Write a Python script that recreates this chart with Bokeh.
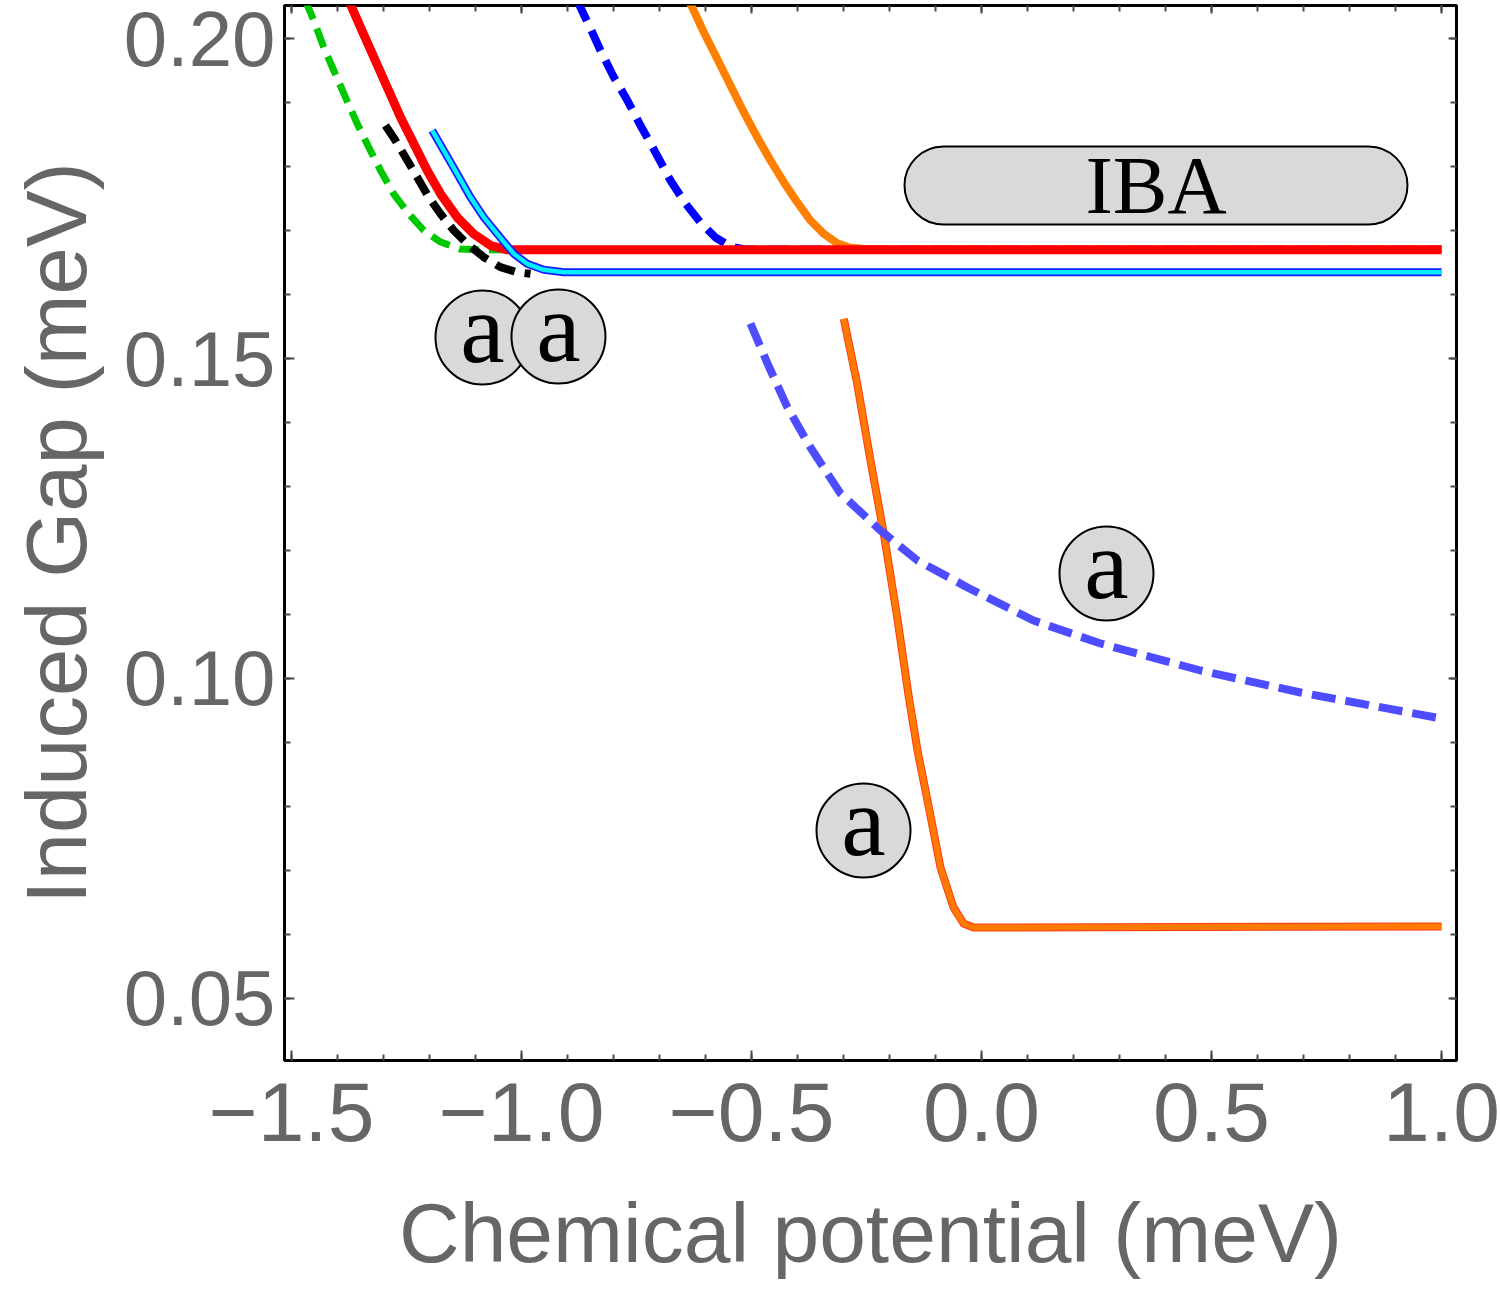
import math

from bokeh.plotting import figure
from bokeh.models import FixedTicker, BoxAnnotation, Label
from bokeh.core.properties import value
from bokeh.embed import file_html
from bokeh.resources import INLINE

# ---- curves: chemical potential (meV) vs induced gap (meV) ----
green_mu = [-1.4696, -1.4515, -1.4298, -1.408, -1.3826, -1.3572, -1.332, -1.3065,
            -1.2776, -1.245, -1.2124, -1.176, -1.1326, -1.089, 1.0]
green_gap = [0.2059, 0.2028, 0.1986, 0.1950, 0.1908, 0.1867, 0.1830, 0.1794,
             0.1757, 0.1726, 0.1700, 0.1682, 0.1671, 0.1670, 0.1670]

black_mu = [-1.2957, -1.2739, -1.2522, -1.2267, -1.2015, -1.1761, -1.1472, -1.118,
            -1.082, -1.0457, -1.0093, -0.9804]
black_gap = [0.18641, 0.18406, 0.18145, 0.17833, 0.17520, 0.17261, 0.17000, 0.16792,
             0.16583, 0.16427, 0.16348, 0.16323]

red_mu = [-1.3754, -1.350, -1.321, -1.292, -1.263, -1.234, -1.205, -1.176,
          -1.140, -1.104, -1.067, -1.031, 1.0]
red_gap = [0.20594, 0.20177, 0.19708, 0.19239, 0.18770, 0.18355, 0.17938, 0.17573,
           0.17208, 0.16948, 0.16766, 0.16698, 0.16698]

cyan_mu = [-1.1941, -1.1689, -1.1398, -1.1109, -1.082, -1.0528, -1.0167, -0.9876,
           -0.9515, -0.908, 1.0]
cyan_gap = [0.18563, 0.18250, 0.17886, 0.17520, 0.17208, 0.16948, 0.16636, 0.16480,
            0.16386, 0.16348, 0.16348]

blue_mu = [-0.878, -0.8717, -0.85, -0.8283, -0.80, -0.7696, -0.7413, -0.7109, -0.6761,
           -0.6435, -0.6109, -0.5783, -0.5457, -0.513, 1.0]
blue_gap = [0.2059, 0.20484, 0.20156, 0.19813, 0.19406, 0.19031, 0.18641, 0.18250, 0.17781,
            0.17422, 0.17125, 0.16891, 0.16750, 0.16703, 0.16703]

orange_mu = [-0.637, -0.6289, -0.6037, -0.5746, -0.5457, -0.5167, -0.4876, -0.4587,
             -0.4298, -0.4007, -0.3717, -0.3428, -0.3137, -0.2848, -0.2413, 1.0]
orange_gap = [0.2059, 0.20489, 0.20098, 0.19683, 0.19266, 0.18848, 0.18458, 0.18094,
              0.17755, 0.17442, 0.17156, 0.16948, 0.16802, 0.16730, 0.16703, 0.16703]

low_blue_mu = [-0.5022, -0.4652, -0.4217, -0.3717, -0.3065, -0.2196, -0.1391, -0.0304,
               0.1130, 0.2587, 0.4761, 0.6935, 1.0]
low_blue_gap = [0.15547, 0.14922, 0.14234, 0.13609, 0.12891, 0.12313, 0.11844, 0.11422,
                0.10906, 0.10547, 0.10125, 0.09781, 0.09375]

low_orange_mu = [-0.2993, -0.2702, -0.2413, -0.2124, -0.1833, -0.1580, -0.1391, -0.1174,
                 -0.0891, -0.0609, -0.0391, -0.0174, 1.0]
low_orange_gap = [0.15620, 0.14605, 0.13406, 0.12261, 0.10958, 0.09708, 0.08875, 0.08094,
                  0.07047, 0.06422, 0.06172, 0.06109, 0.06125]

# ---- badge markers ----
badge_mu = [-1.0848, -0.9196, 0.2717, -0.2565]
badge_gap = [0.15328, 0.15344, 0.11641, 0.07625]
badge_text = ["a", "a", "a", "a"]

# ---- IBA tag ----
iba_left, iba_right = -0.1674, 0.9261
iba_bottom, iba_top = 0.17094, 0.18313
iba_text = "IBA"

# ---- axes ----
x_lo, x_hi = -1.5152, 1.0326
y_lo, y_hi = 0.04031, 0.20516
x_ticks = [-1.5, -1.0, -0.5, 0.0, 0.5, 1.0]
x_tick_labels = ["\u22121.5", "\u22121.0", "\u22120.5", "0.0", "0.5", "1.0"]
y_ticks = [0.05, 0.10, 0.15, 0.20]
y_tick_labels = ["0.05", "0.10", "0.15", "0.20"]
x_minor = [round(-1.5 + 0.1 * i, 2) for i in range(26)]
y_minor = [round(0.04 + 0.01 * i, 3) for i in range(17)]

GRAY = "#666666"
TICK = "#4a4a4a"

p = figure(width=1500, height=1305, x_range=(x_lo, x_hi), y_range=(y_lo, y_hi),
           output_backend="svg", toolbar_location=None,
           min_border_left=284, min_border_right=44, min_border_top=5, min_border_bottom=245)
p.xgrid.visible = False
p.ygrid.visible = False
p.background_fill_color = "white"
p.border_fill_color = "white"
p.outline_line_color = "black"
p.outline_line_width = 3

xa = p.xaxis[0]
xa.ticker = FixedTicker(ticks=x_ticks, minor_ticks=x_minor)
xa.major_label_overrides = dict(zip(x_ticks, x_tick_labels))
xa.axis_label = "Chemical potential (meV)"
ya = p.yaxis[0]
ya.ticker = FixedTicker(ticks=y_ticks, minor_ticks=y_minor)
ya.major_label_overrides = dict(zip(y_ticks, y_tick_labels))
ya.axis_label = "Induced Gap (meV)"

for ax in (xa, ya):
    ax.axis_line_color = "black"
    ax.axis_line_width = 3
    ax.major_tick_in = 10
    ax.major_tick_out = 0
    ax.minor_tick_in = 6
    ax.minor_tick_out = 0
    ax.major_tick_line_color = TICK
    ax.minor_tick_line_color = TICK
    ax.major_tick_line_width = 2
    ax.minor_tick_line_width = 2
    ax.major_label_text_color = GRAY
    ax.major_label_text_font = "Liberation Sans"
    ax.axis_label_text_color = GRAY
    ax.axis_label_text_font = "Liberation Sans"
    ax.axis_label_text_font_style = "normal"

xa.major_label_text_font_size = "84px"
xa.major_label_standoff = 22
xa.axis_label_text_font_size = "84px"
xa.axis_label_standoff = 42
ya.major_label_text_font_size = "78px"
ya.major_label_standoff = 9
ya.axis_label_text_font_size = "85px"
ya.axis_label_standoff = 17

# frame ticks along the top and right edges (half of each dash is clipped by the frame)
p.scatter(x_minor, [y_hi] * len(x_minor), marker="dash", size=12, angle=math.pi / 2,
          line_color=TICK, line_width=2)
p.scatter(x_ticks, [y_hi] * len(x_ticks), marker="dash", size=16, angle=math.pi / 2,
          line_color=TICK, line_width=2)
p.scatter([x_hi] * len(y_minor), y_minor, marker="dash", size=12,
          line_color=TICK, line_width=2)
p.scatter([x_hi] * len(y_ticks), y_ticks, marker="dash", size=16,
          line_color=TICK, line_width=2)

# ---- curves ----
p.line(green_mu, green_gap, line_color="#00c800", line_width=7, line_dash="20 10")
p.line(black_mu, black_gap, line_color="black", line_width=8, line_dash="20 10")
p.line(blue_mu, blue_gap, line_color="#0000ff", line_width=8, line_dash="22 11")
p.line(orange_mu, orange_gap, line_color="#ff8000", line_width=8, line_join="round")
p.line(red_mu, red_gap, line_color="#ff0000", line_width=9, line_join="round")
p.line(cyan_mu, cyan_gap, line_color="#1a1aff", line_width=8, line_join="round")
p.line(cyan_mu, cyan_gap, line_color="#00f0ff", line_width=4.5, line_join="round")
p.line(low_orange_mu, low_orange_gap, line_color="#ff3a1a", line_width=8, line_join="round")
p.line(low_orange_mu, low_orange_gap, line_color="#ff7a00", line_width=6, line_join="round")
p.line(low_blue_mu, low_blue_gap, line_color="#4d4dff", line_width=8, line_dash="24 10")

# ---- badges ----
for bx, by, bt in zip(badge_mu, badge_gap, badge_text):
    p.scatter([bx], [by], marker="circle", size=94, fill_color="#d9d9d9",
              line_color="black", line_width=2)
    p.text([bx], [by], text=[bt], text_font=value("Liberation Serif"),
           text_font_size="100px", text_align="center", text_baseline="middle",
           y_offset=-9, text_color="black")

# ---- IBA tag ----
p.add_layout(BoxAnnotation(left=iba_left, right=iba_right, bottom=iba_bottom, top=iba_top,
                           fill_color="#d9d9d9", fill_alpha=1.0, line_color="black",
                           line_alpha=1.0, line_width=2, border_radius=39))
p.add_layout(Label(x=(iba_left + iba_right) / 2, y=(iba_bottom + iba_top) / 2, text=iba_text,
                   text_font="Liberation Serif", text_font_size="82px",
                   text_align="center", text_baseline="middle", text_color="black"))

open("out.html", "w").write(file_html(p, INLINE))
